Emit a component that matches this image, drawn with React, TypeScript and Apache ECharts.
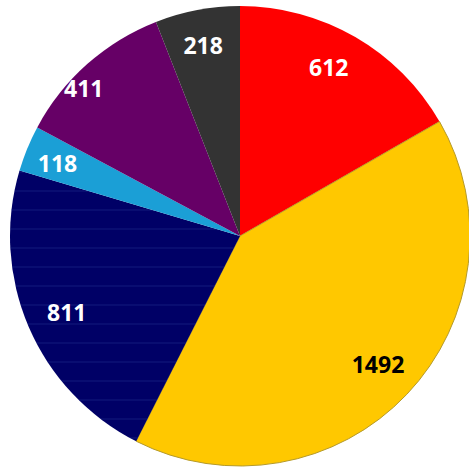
import React, { useEffect, useRef } from "react";
import * as echarts from "echarts";

const categories = ["Red", "Yellow", "Navy", "Light blue", "Purple", "Dark grey"];
const values = [612, 1492, 811, 118, 411, 218];
const colors = ["#ff0000", "#ffc800", "#000066", "#1b9fd6", "#660066", "#333333"];
const labelColors = ["#ffffff", "#000000", "#ffffff", "#ffffff", "#ffffff", "#ffffff"];

export default function App() {
  const ref = useRef<HTMLDivElement>(null);
  useEffect(() => {
    if (!ref.current) return;
    const chart = echarts.init(ref.current, null, { renderer: "svg" });
    const center = [240, 236];
    const offsets = [[-8, -2], [-2, -5], [4, 0], [-4, 0], [-28, -4], [-1, -1]];
    chart.setOption({
      animation: false,
      backgroundColor: "#ffffff",
      series: [
        {
          type: "pie",
          center,
          radius: 230,
          startAngle: 90,
          clockwise: true,
          silent: true,
          label: { show: false },
          labelLine: { show: false },
          data: categories.map((c, i) => ({
            name: c,
            value: values[i],
            itemStyle: {
              color: colors[i],
              borderWidth: i === 1 ? 1 : 0,
              borderColor: "#b59a2a",
              decal:
                i === 2
                  ? {
                      symbol: "rect",
                      dashArrayX: [1, 0],
                      dashArrayY: [1.5, 16.5],
                      rotation: 0,
                      color: "rgba(50,70,160,0.18)",
                    }
                  : undefined,
            },
          })),
        },
        {
          type: "pie",
          center,
          radius: [150, 230],
          startAngle: 90,
          clockwise: true,
          silent: true,
          labelLine: { show: false },
          label: {
            show: true,
            position: "inside",
            formatter: "{c}",
            fontFamily: "Open Sans",
            fontWeight: "bold",
            fontSize: 23,
          },
          data: categories.map((c, i) => ({
            name: c,
            value: values[i],
            itemStyle: { color: "rgba(0,0,0,0)" },
            label: {
              color: labelColors[i],
              offset: offsets[i],
            },
          })),
        },
      ],
    });
    return () => chart.dispose();
  }, []);
  return (
    <div
      ref={ref}
      style={{ position: "fixed", left: 0, top: 0, width: 469, height: 468 }}
    />
  );
}
